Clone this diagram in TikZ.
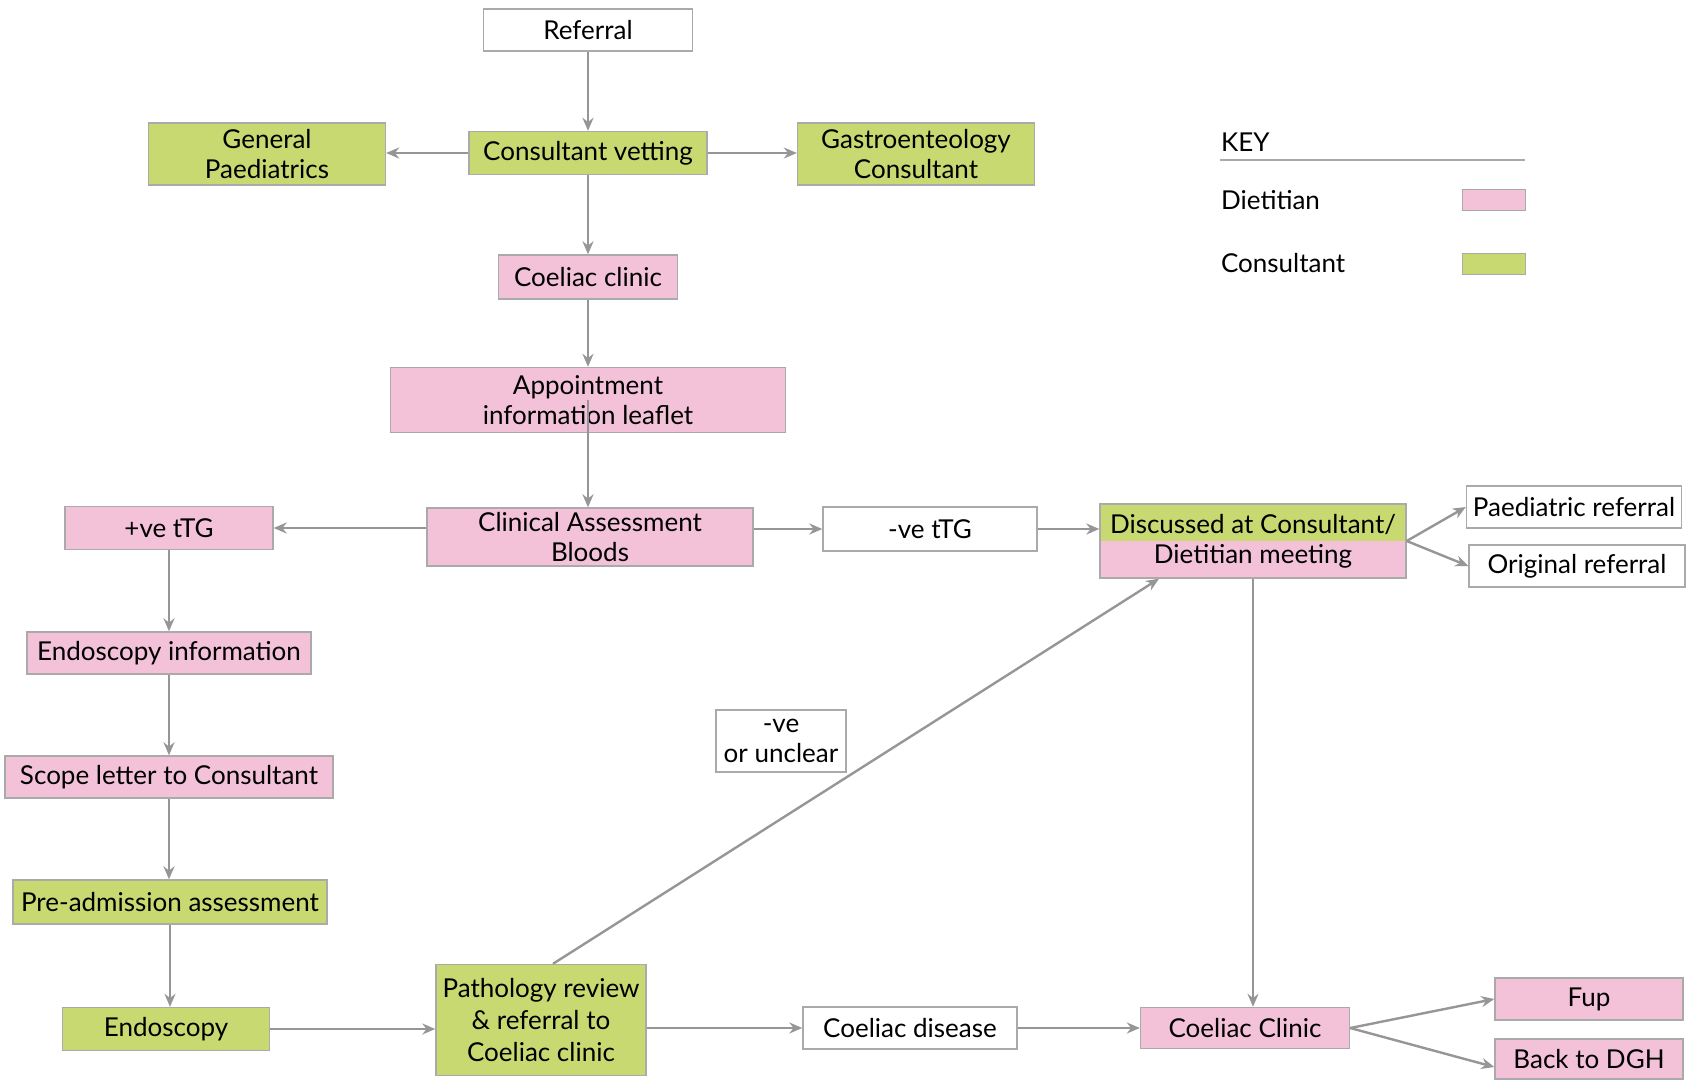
\documentclass[tikz,border=0pt]{standalone}
\usepackage{fontspec}
\setmainfont{Lato}
\usepackage{xcolor}
\usepackage{tikz}
\usetikzlibrary{arrows.meta}
\usetikzlibrary{positioning}
\definecolor{dietpink}{RGB}{243,194,216}
\definecolor{consgreen}{RGB}{200,217,113}
\definecolor{linegray}{RGB}{150,150,150}
\definecolor{edgegray}{RGB}{170,170,170}
\tikzset{box/.style={draw=edgegray, line width=0.7pt, inner sep=1pt, align=center, text=black, font=\fontsize{13}{15}\selectfont}}
\tikzset{dbox/.style={box, fill=dietpink}}
\tikzset{cbox/.style={box, fill=consgreen}}
\tikzset{wbox/.style={box, fill=white}}
\tikzset{arr/.style={draw=linegray, line width=1.2pt, -{Stealth[length=6.5pt,width=5.5pt]}}}

\begin{document}
\begin{tikzpicture}[x=0.5pt,y=-0.5pt]
{
\useasboundingbox (0,0) rectangle (1696,1081);
% top of the pathway
\node[wbox, minimum width=104.5pt, minimum height=21pt] (ref) at (588,30) {Referral};
\node[cbox, minimum width=119pt, minimum height=21.5pt] (vet) at (588,153) {Consultant vetting};
\node[cbox, minimum width=118.5pt, minimum height=31pt] (genp) at (267,154) {General\\Paediatrics};
\node[cbox, minimum width=118.5pt, minimum height=31pt] (gastro) at (916,154) {Gastroenteology\\Consultant};
\node[dbox, minimum width=89.5pt, minimum height=22pt] (clinic) at (588,277) {Coeliac clinic};
\node[dbox, minimum width=197.5pt, minimum height=32.5pt] (leaflet) at (588,400) {Appointment\\information leaflet};
\node[dbox, minimum width=163pt, minimum height=29pt] (assess) at (590,537) {Clinical Assessment\\Bloods};
\node[dbox, minimum width=104pt, minimum height=21.5pt] (pos) at (169,528) {+ve tTG};
\node[wbox, minimum width=107pt, minimum height=22pt] (neg) at (930,529) {-ve tTG};
\node[box, minimum width=153pt, minimum height=37pt, fill=dietpink,
  path picture={\fill[consgreen] (path picture bounding box.north west) rectangle (path picture bounding box.east);}]
  (meet) at (1253,541) {Discussed at Consultant/\\Dietitian meeting};
\node[wbox, minimum width=107.5pt, minimum height=21pt] (paedref) at (1574,507) {Paediatric referral};
\node[wbox, minimum width=108pt, minimum height=21pt] (origref) at (1577,566) {Original referral};
% left column
\node[dbox, minimum width=142pt, minimum height=21pt] (endoinfo) at (169,653) {Endoscopy information};
\node[dbox, minimum width=164pt, minimum height=21pt] (scope) at (169,777) {Scope letter to Consultant};
\node[cbox, minimum width=157pt, minimum height=22pt] (preadm) at (170,902) {Pre-admission assessment};
\node[cbox, minimum width=103.5pt, minimum height=21.5pt] (endo) at (166,1029) {Endoscopy};
% bottom row
\node[cbox, minimum width=105pt, minimum height=55.5pt, font=\fontsize{13}{16}\selectfont] (patho) at (541,1020) {Pathology review\\\& referral to\\Coeliac clinic};
\node[wbox, minimum width=107pt, minimum height=21pt] (cd) at (910,1028) {Coeliac disease};
\node[dbox, minimum width=104.5pt, minimum height=20.5pt] (cclinic) at (1245,1028) {Coeliac Clinic};
\node[dbox, minimum width=94pt, minimum height=21pt] (fup) at (1589,999) {Fup};
\node[dbox, minimum width=94pt, minimum height=20pt] (dgh) at (1589,1059) {Back to DGH};
\node[wbox, minimum width=65pt, minimum height=31pt] (unclear) at (781,741) {-ve\\or unclear};
% key
\node[anchor=west, text=black, font=\fontsize{13}{15}\selectfont] (keyt) at (1214,142) {KEY};
\coordinate (keyl) at (1220,160);
\coordinate (keyr) at (1525,160);
\draw[edgegray, line width=1.3pt] (keyl) -- (keyr);
\node[anchor=west, text=black, font=\fontsize{13}{15}\selectfont] (keyd) at (1214,200) {Dietitian};
\node[anchor=west, text=black, font=\fontsize{13}{15}\selectfont] (keyc) at (1214,263) {Consultant};
\node[dbox, minimum width=31.5pt, minimum height=10.5pt] (swd) at (1494,200) {};
\node[cbox, minimum width=31.5pt, minimum height=10.5pt] (swc) at (1494,264) {};
% connectors
\draw[arr] (ref.south) -- (ref.south |- vet.north);
\draw[arr] (vet.west) -- (vet.west -| genp.east);
\draw[arr] (vet.east) -- (vet.east -| gastro.west);
\draw[arr] (vet.south) -- (vet.south |- clinic.north);
\draw[arr] (clinic.south) -- (clinic.south |- leaflet.north);
\draw[arr] (leaflet.center) -- (leaflet.center |- assess.north);
\draw[arr] (pos -| assess.west) -- (pos.east);
\draw[arr] (neg -| assess.east) -- (neg.west);
\draw[arr] (neg.east) -- (neg -| meet.west);
\draw[arr] (meet.east) -- (paedref.west);
\draw[arr] (meet.east) -- (origref.west);
\draw[arr] (meet.south) -- (meet.south |- cclinic.north);
\draw[arr] (pos.south) -- (pos.south |- endoinfo.north);
\draw[arr] (endoinfo.south) -- (endoinfo.south |- scope.north);
\draw[arr] (scope.south) -- (scope.south |- preadm.north);
\draw[arr] (preadm.south) -- (preadm.south |- endo.north);
\draw[arr] (endo.east) -- (endo.east -| patho.west);
\draw[arr] (cd -| patho.east) -- (cd.west);
\draw[arr] (cd.east) -- (cclinic.west);
\draw[arr] ([xshift=6pt]patho.north) -- ([xshift=-47pt]meet.south);
\draw[arr] (cclinic.east) -- (fup.west);
\draw[arr] (cclinic.east) -- ([yshift=-4pt]dgh.west);
}
\end{tikzpicture}
\end{document}
